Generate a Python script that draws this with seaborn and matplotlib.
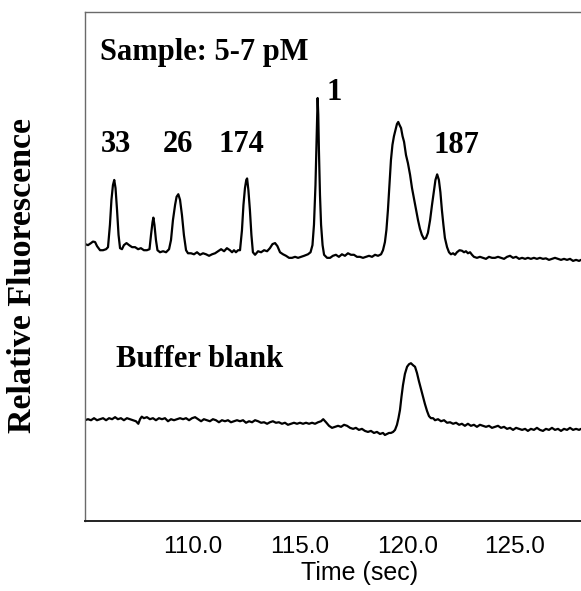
import matplotlib
matplotlib.use("Agg")
import matplotlib.pyplot as plt
import seaborn as sns
import pandas as pd

# Electropherogram of the 5-7 pM sample (time in s, relative fluorescence)
sample_time = [
    105.00, 105.14, 105.28, 105.37, 105.47, 105.56, 105.70, 105.84, 105.98, 106.07,
    106.16, 106.23, 106.30, 106.36, 106.42, 106.49, 106.56, 106.63, 106.72, 106.81,
    106.93, 107.05, 107.19, 107.33, 107.47, 107.60, 107.74, 107.88, 108.00, 108.07,
    108.14, 108.18, 108.23, 108.30, 108.37, 108.49, 108.63, 108.77, 108.91, 109.00,
    109.09, 109.19, 109.26, 109.34, 109.42, 109.51, 109.60, 109.70, 109.79, 109.93,
    110.07, 110.21, 110.35, 110.49, 110.63, 110.77, 110.91, 111.05, 111.19, 111.33,
    111.47, 111.60, 111.74, 111.84, 111.93, 112.02, 112.12, 112.21, 112.30, 112.37,
    112.44, 112.50, 112.54, 112.60, 112.67, 112.74, 112.81, 112.91, 113.05, 113.19,
    113.33, 113.47, 113.60, 113.72, 113.84, 113.95, 114.07, 114.21, 114.35, 114.49,
    114.63, 114.77, 114.91, 115.05, 115.19, 115.37, 115.49, 115.58, 115.65, 115.72,
    115.77, 115.80, 115.82, 115.85, 115.88, 115.93, 115.98, 116.05, 116.12, 116.26,
    116.40, 116.53, 116.67, 116.81, 116.95, 117.09, 117.23, 117.37, 117.51, 117.65,
    117.79, 117.93, 118.07, 118.21, 118.35, 118.49, 118.63, 118.77, 118.86, 118.95,
    119.02, 119.09, 119.16, 119.23, 119.30, 119.37, 119.44, 119.51, 119.57, 119.63,
    119.70, 119.77, 119.84, 119.93, 120.02, 120.12, 120.21, 120.30, 120.40, 120.49,
    120.58, 120.67, 120.77, 120.86, 120.95, 121.05, 121.14, 121.23, 121.30, 121.38,
    121.46, 121.53, 121.60, 121.67, 121.74, 121.84, 121.93, 122.02, 122.12, 122.21,
    122.30, 122.42, 122.53, 122.63, 122.72, 122.81, 122.91, 123.00, 123.09, 123.23,
    123.37, 123.51, 123.65, 123.79, 123.93, 124.07, 124.21, 124.35, 124.49, 124.63,
    124.77, 124.91, 125.05, 125.19, 125.33, 125.47, 125.60, 125.74, 125.88, 126.02,
    126.16, 126.30, 126.44, 126.58, 126.72, 126.86, 127.00, 127.14, 127.28, 127.42,
    127.56, 127.70, 127.84, 127.98, 128.07,
]
sample_signal = [
    54.4, 54.2, 54.6, 54.9, 54.8, 54.0, 53.2, 53.2, 53.4, 53.8,
    58.2, 63.1, 66.0, 67.0, 65.4, 61.1, 56.2, 53.6, 53.4, 54.2,
    54.6, 54.2, 53.8, 53.8, 53.4, 53.6, 53.2, 53.2, 53.4, 56.2,
    58.7, 59.6, 58.2, 55.2, 53.2, 52.8, 53.0, 52.8, 53.4, 55.2,
    59.1, 62.1, 63.7, 64.2, 63.1, 60.1, 56.2, 53.2, 52.6, 52.6,
    52.4, 52.8, 52.3, 52.6, 52.4, 52.1, 52.4, 52.6, 53.0, 53.4,
    53.0, 53.6, 53.2, 52.8, 53.2, 52.8, 53.2, 53.2, 57.1, 62.1,
    65.4, 67.0, 67.3, 65.0, 61.1, 56.2, 52.8, 52.3, 53.0, 52.8,
    53.2, 53.0, 53.6, 54.4, 54.6, 54.0, 52.8, 52.4, 52.1, 51.7,
    51.7, 51.9, 51.7, 51.9, 52.1, 52.4, 52.8, 54.2, 58.2, 66.0,
    74.9, 80.7, 83.1, 79.8, 72.9, 64.0, 58.2, 54.2, 52.3, 51.7,
    51.7, 52.1, 52.3, 51.9, 52.4, 52.1, 52.6, 52.3, 52.3, 51.9,
    51.9, 51.7, 51.9, 52.1, 51.9, 52.3, 52.1, 52.4, 53.2, 54.8,
    57.2, 61.1, 66.0, 70.9, 73.9, 75.6, 76.8, 78.0, 78.4, 77.8,
    77.2, 75.6, 74.5, 71.9, 70.3, 68.0, 65.4, 63.4, 61.1, 59.1,
    57.4, 56.2, 55.4, 55.6, 56.6, 59.1, 62.1, 64.8, 67.0, 68.1,
    67.0, 64.6, 61.1, 58.2, 55.6, 53.8, 52.8, 52.4, 52.6, 52.3,
    52.8, 53.2, 53.1, 52.8, 53.0, 52.6, 52.8, 52.3, 51.9, 51.7,
    51.9, 51.7, 51.5, 51.9, 51.7, 51.7, 51.9, 51.7, 51.5, 51.9,
    52.1, 51.7, 51.9, 51.5, 51.7, 51.5, 51.7, 51.5, 51.7, 51.5,
    51.7, 51.5, 51.6, 51.3, 51.5, 51.7, 51.5, 51.3, 51.5, 51.3,
    51.5, 51.1, 51.3, 51.1, 51.3,
]

# Buffer blank run
blank_time = [
    105.00, 105.14, 105.28, 105.42, 105.56, 105.70, 105.84, 105.98, 106.12, 106.26,
    106.40, 106.53, 106.67, 106.81, 106.95, 107.09, 107.23, 107.37, 107.48, 107.56,
    107.64, 107.74, 107.88, 108.02, 108.16, 108.30, 108.44, 108.58, 108.72, 108.86,
    109.00, 109.14, 109.28, 109.42, 109.56, 109.70, 109.84, 109.98, 110.12, 110.26,
    110.40, 110.53, 110.67, 110.81, 110.95, 111.09, 111.23, 111.37, 111.51, 111.65,
    111.79, 111.93, 112.07, 112.21, 112.35, 112.49, 112.63, 112.77, 112.91, 113.05,
    113.19, 113.33, 113.47, 113.60, 113.74, 113.88, 114.02, 114.16, 114.30, 114.44,
    114.58, 114.72, 114.86, 115.00, 115.14, 115.28, 115.42, 115.56, 115.70, 115.84,
    115.98, 116.08, 116.21, 116.35, 116.49, 116.63, 116.77, 116.91, 117.05, 117.19,
    117.33, 117.47, 117.60, 117.74, 117.88, 118.02, 118.16, 118.30, 118.44, 118.58,
    118.72, 118.86, 118.95, 119.05, 119.14, 119.23, 119.33, 119.42, 119.51, 119.58,
    119.65, 119.72, 119.79, 119.88, 119.98, 120.07, 120.16, 120.26, 120.35, 120.44,
    120.53, 120.63, 120.72, 120.81, 120.91, 121.00, 121.09, 121.19, 121.28, 121.42,
    121.56, 121.70, 121.84, 121.98, 122.12, 122.26, 122.40, 122.53, 122.67, 122.81,
    122.95, 123.09, 123.23, 123.37, 123.51, 123.65, 123.79, 123.93, 124.07, 124.21,
    124.35, 124.49, 124.63, 124.77, 124.91, 125.05, 125.19, 125.33, 125.47, 125.60,
    125.74, 125.88, 126.02, 126.16, 126.30, 126.44, 126.58, 126.72, 126.86, 127.00,
    127.14, 127.28, 127.42, 127.56, 127.70, 127.84, 127.98, 128.07,
]
blank_signal = [
    19.8, 20.0, 19.8, 20.2, 19.8, 20.0, 20.2, 19.8, 20.2, 20.0,
    20.4, 20.0, 20.2, 19.8, 20.2, 20.0, 19.8, 19.6, 19.1, 20.0,
    20.5, 20.2, 20.4, 20.0, 20.2, 19.8, 20.2, 20.0, 20.2, 19.6,
    20.0, 19.8, 20.0, 20.2, 20.0, 20.2, 19.8, 20.2, 20.4, 20.0,
    19.6, 20.0, 19.8, 19.6, 20.0, 19.8, 19.4, 19.8, 19.6, 19.8,
    19.4, 19.6, 19.8, 19.6, 19.8, 19.3, 19.6, 19.4, 19.8, 19.6,
    19.3, 19.4, 19.1, 19.4, 19.6, 19.3, 19.4, 19.1, 19.3, 18.9,
    19.1, 19.3, 19.1, 19.3, 19.1, 19.3, 19.1, 19.3, 19.1, 19.4,
    19.6, 20.0, 19.4, 18.7, 18.3, 18.5, 18.7, 18.5, 18.9, 18.7,
    18.3, 18.1, 18.3, 17.9, 18.1, 17.7, 17.5, 17.7, 17.3, 17.5,
    17.1, 17.3, 16.9, 17.1, 17.3, 17.3, 17.5, 17.9, 18.9, 20.2,
    21.8, 24.4, 26.7, 28.9, 30.3, 30.8, 31.0, 30.6, 30.3, 29.1,
    27.5, 25.9, 24.4, 23.0, 21.6, 20.6, 20.2, 20.2, 19.8, 20.0,
    19.6, 19.8, 19.3, 19.4, 19.1, 19.3, 18.9, 19.1, 18.7, 19.1,
    18.7, 18.9, 18.5, 18.9, 18.7, 18.5, 18.7, 18.3, 18.5, 18.7,
    18.3, 18.5, 18.1, 18.3, 17.9, 18.3, 18.1, 17.9, 18.1, 17.7,
    18.1, 17.9, 18.3, 17.9, 17.7, 18.1, 17.9, 18.3, 17.9, 18.1,
    17.7, 18.1, 17.9, 18.3, 17.9, 18.1, 17.9, 18.1,
]

# Peak annotations: label, time, height of label baseline
peak_labels = ["33", "26", "174", "1", "187"]
peak_label_time = [106.44, 109.33, 112.26, 116.58, 122.26]
peak_label_y = [72.5, 72.5, 72.5, 82.7, 72.3]

tick_values = [110.0, 115.0, 120.0, 125.0]
tick_labels = ["110.0", "115.0", "120.0", "125.0"]

sns.set_theme(style="white")
plt.rcParams["font.family"] = ["Liberation Sans", "DejaVu Sans"]

df = pd.concat([
    pd.DataFrame({"time": sample_time, "signal": sample_signal, "run": "sample"}),
    pd.DataFrame({"time": blank_time, "signal": blank_signal, "run": "blank"}),
])

fig = plt.figure(figsize=(5.81, 5.91), dpi=100)
ax = fig.add_axes([85 / 581, 70 / 591, 496 / 581, 509 / 591])

sns.lineplot(data=df, x="time", y="signal", units="run", estimator=None,
             color="black", linewidth=1.6, ax=ax, legend=False)

ax.set_xlim(105.0, 128.07)
ax.set_ylim(0, 100)
ax.set_xticks(tick_values)
ax.set_xticklabels(tick_labels)
ax.set_yticks([])
ax.tick_params(axis="x", length=0, pad=11, labelsize=17.5, colors="black")

serif_bold = dict(family=["Liberation Serif", "DejaVu Serif"], weight="bold", color="black")

ax.text(105.70, 90.6, "Sample: 5-7 pM", ha="left", va="baseline", fontsize=22, **serif_bold)
ax.text(106.44, 30.3, "Buffer blank", ha="left", va="baseline", fontsize=22, **serif_bold)
for lab, t, y in zip(peak_labels, peak_label_time, peak_label_y):
    ax.text(t, y, lab, ha="center", va="baseline", fontsize=22, **serif_bold)

ax.set_xlabel("Time (sec)", fontsize=18, color="black")
ax.xaxis.set_label_coords(0.554, -0.103)
ax.xaxis.label.set_va("center")

ax.set_ylabel("Relative Fluorescence", fontsize=24.5, **serif_bold)
ax.yaxis.set_label_coords(-0.127, 0.483)
ax.yaxis.label.set_va("center")

for side in ["left", "top"]:
    ax.spines[side].set_color("#6a6a6a")
    ax.spines[side].set_linewidth(1.0)
ax.spines["bottom"].set_color("#222222")
ax.spines["bottom"].set_linewidth(1.4)
ax.spines["right"].set_visible(False)

fig.savefig("out.png", dpi=100)
